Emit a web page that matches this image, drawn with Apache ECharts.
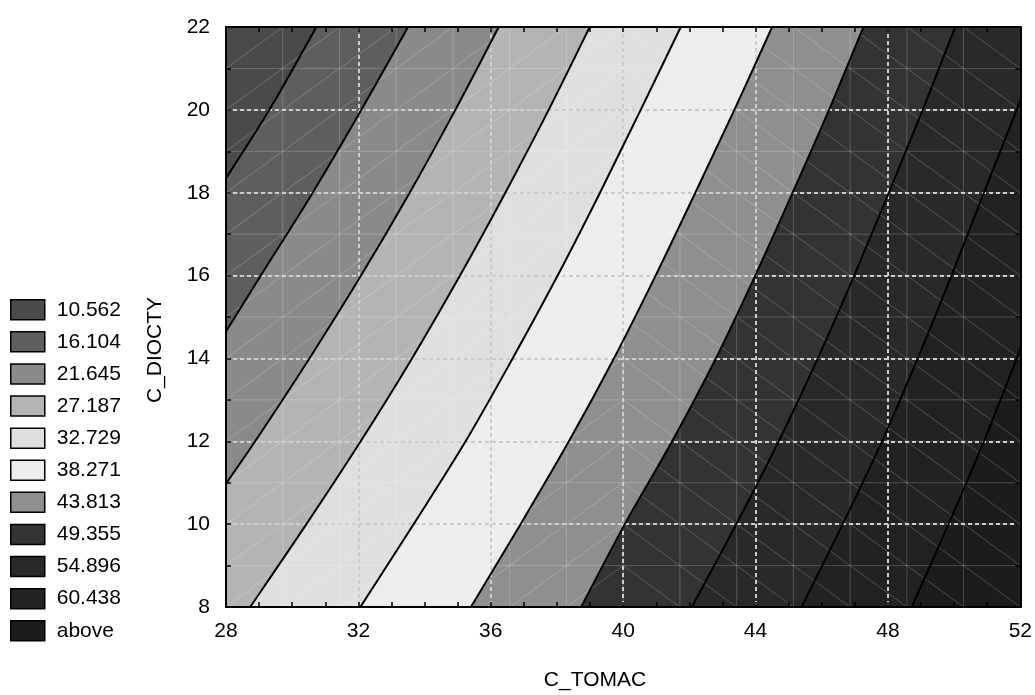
<!DOCTYPE html>
<html>
<head>
<meta charset="utf-8">
<title>C_DIOCTY vs C_TOMAC</title>
<script src="https://cdn.jsdelivr.net/npm/echarts@6/dist/echarts.min.js"></script>
<style>
  html, body { margin: 0; padding: 0; background: #fff; }
  #chart { width: 1035px; height: 695px; }
</style>
</head>
<body>
<div id="chart"></div>
<script>
// Axis ranges
const X_MIN = 28, X_MAX = 52, X_STEP = 4;
const Y_MIN = 8, Y_MAX = 22, Y_STEP = 2;

// Contour levels (legend entries, low to high)
const levels = ['10.562', '16.104', '21.645', '27.187', '32.729', '38.271',
                '43.813', '49.355', '54.896', '60.438', 'above'];

// Iso-lines, each listed from its upper end to its lower end as [C_TOMAC, C_DIOCTY]
const iso10562 = [[30.73, 22], [29.31, 20], [28, 18.35]];
const iso16104 = [[33.50, 22], [32.09, 20], [30.62, 18], [29.05, 16], [28, 14.65]];
const iso21645 = [[36.24, 22], [34.93, 20], [33.55, 18], [32.08, 16], [30.52, 14], [28.88, 12], [28, 10.98]];
const iso27187 = [[38.99, 22], [37.75, 20], [36.44, 18], [35.07, 16], [33.62, 14], [32.07, 12], [30.43, 10], [28.73, 8]];
const iso32729 = [[41.74, 22], [40.53, 20], [39.30, 18], [38.02, 16], [36.66, 14], [35.24, 12], [33.67, 10], [32.06, 8]];
const iso38271 = [[44.50, 22], [43.36, 20], [42.18, 18], [40.98, 16], [39.72, 14], [38.36, 12], [36.90, 10], [35.40, 8]];
const iso43813 = [[47.26, 22], [46.22, 20], [45.12, 18], [43.99, 16], [42.80, 14], [41.48, 12], [40.05, 10], [38.73, 8]];
const iso49355 = [[50.03, 22], [49.05, 20], [48.03, 18], [46.98, 16], [45.88, 14], [44.70, 12], [43.42, 10], [42.07, 8]];
const iso54896 = [[52, 20.2], [51.89, 20], [50.90, 18], [49.92, 16], [48.90, 14], [47.82, 12], [46.63, 10], [45.39, 8]];
const iso60438 = [[52, 14.22], [51.89, 14], [50.90, 12], [49.83, 10], [48.72, 8]];

const isoLines = [iso10562, iso16104, iso21645, iso27187, iso32729,
                  iso38271, iso43813, iso49355, iso54896, iso60438];

// Fill shade of each band
const bandColors = ['#4a4a4a', '#5e5e5e', '#8a8a8a', '#b4b4b4', '#dfdfdf', '#ededed',
                    '#8f8f8f', '#333333', '#292929', '#222222', '#1c1c1c'];

// Surface mesh resolution (cells along each axis)
const MESH_COLS = 14, MESH_ROWS = 14;

const FONT = "'Liberation Sans', Arial, sans-serif";
const FONT_SIZE = 21;

// Smooth (Catmull-Rom) path through pixel points, as SVG path commands
function curveCommands(px) {
  const f = v => v.toFixed(2);
  let d = 'M' + f(px[0][0]) + ' ' + f(px[0][1]);
  for (let i = 0; i < px.length - 1; i++) {
    const p0 = px[i - 1] || px[i], p1 = px[i], p2 = px[i + 1], p3 = px[i + 2] || px[i + 1];
    const c1x = p1[0] + (p2[0] - p0[0]) / 6, c1y = p1[1] + (p2[1] - p0[1]) / 6;
    const c2x = p2[0] - (p3[0] - p1[0]) / 6, c2y = p2[1] - (p3[1] - p1[1]) / 6;
    d += ' C' + [c1x, c1y, c2x, c2y, p2[0], p2[1]].map(f).join(' ');
  }
  return d;
}

// Border corners that close the high side of an iso-line
function highSideCorners(line) {
  const first = line[0], last = line[line.length - 1];
  const pts = [];
  if (last[0] === X_MIN && last[1] > Y_MIN) pts.push([X_MIN, Y_MIN]);
  pts.push([X_MAX, Y_MIN]);
  if (first[1] === Y_MAX) pts.push([X_MAX, Y_MAX]);
  return pts;
}

function bandPath(i, api) {
  if (i === 0) {
    const r = [[X_MIN, Y_MAX], [X_MIN, Y_MIN], [X_MAX, Y_MIN], [X_MAX, Y_MAX]].map(p => api.coord(p));
    return 'M' + r.map(p => p[0] + ' ' + p[1]).join(' L') + ' Z';
  }
  const line = isoLines[i - 1];
  let d = curveCommands(line.map(p => api.coord(p)));
  highSideCorners(line).forEach(p => {
    const q = api.coord(p);
    d += ' L' + q[0] + ' ' + q[1];
  });
  return d + ' Z';
}

const bandSeries = levels.map((name, i) => ({
  name: name,
  type: 'custom',
  coordinateSystem: 'cartesian2d',
  z: 1,
  silent: true,
  clip: true,
  itemStyle: { color: bandColors[i] },
  data: [[X_MIN, Y_MIN]],
  renderItem: (params, api) => ({
    type: 'path',
    shape: { pathData: bandPath(i, api) },
    style: { fill: bandColors[i], stroke: null }
  })
}));

// Faint wireframe of the fitted surface
const meshSeries = {
  name: 'mesh',
  type: 'custom',
  coordinateSystem: 'cartesian2d',
  z: 1,
  silent: true,
  clip: true,
  data: [[X_MIN, Y_MIN]],
  renderItem: (params, api) => {
    const dx = (X_MAX - X_MIN) / MESH_COLS, dy = (Y_MAX - Y_MIN) / MESH_ROWS;
    const style = { stroke: 'rgba(255,255,255,0.2)', lineWidth: 1 };
    const kids = [];
    const seg = (a, b) => {
      const p = api.coord(a), q = api.coord(b);
      kids.push({ type: 'line', shape: { x1: p[0], y1: p[1], x2: q[0], y2: q[1] }, style: style });
    };
    for (let c = 1; c < MESH_COLS; c++) seg([X_MIN + c * dx, Y_MIN], [X_MIN + c * dx, Y_MAX]);
    for (let r = 1; r < MESH_ROWS; r++) seg([X_MIN, Y_MIN + r * dy], [X_MAX, Y_MIN + r * dy]);
    for (let c = 0; c < MESH_COLS; c++) {
      const x0 = X_MIN + c * dx, x1 = x0 + dx;
      for (let r = 0; r < MESH_ROWS; r++) {
        const y0 = Y_MIN + r * dy, y1 = y0 + dy;
        if (c < MESH_COLS / 2) seg([x0, y0], [x1, y1]);
        else seg([x0, y1], [x1, y0]);
      }
    }
    return { type: 'group', children: kids };
  }
};

// Black iso-lines drawn over the bands and the grid
const isoSeries = {
  name: 'isolines',
  type: 'custom',
  coordinateSystem: 'cartesian2d',
  z: 5,
  silent: true,
  clip: true,
  data: [[X_MIN, Y_MIN]],
  renderItem: (params, api) => ({
    type: 'group',
    children: isoLines.map(line => ({
      type: 'path',
      shape: { pathData: curveCommands(line.map(p => api.coord(p))) },
      style: { fill: null, stroke: '#000', lineWidth: 2 }
    }))
  })
};

const tickStyle = { show: true, inside: true, length: 5, lineStyle: { color: '#000', width: 1.5 } };
const lineStyleAxis = { show: true, onZero: false, lineStyle: { color: '#000', width: 2 } };
const gridDash = { show: true, lineStyle: { color: '#cdcdcd', width: 2, type: [4, 3] } };
const labelStyle = { fontFamily: FONT, fontSize: FONT_SIZE, color: '#000' };

const chart = echarts.init(document.getElementById('chart'), null, { renderer: 'canvas' });
chart.setOption({
  animation: false,
  backgroundColor: '#fff',
  grid: { left: 226, right: 13, top: 27, bottom: 88, containLabel: false },
  xAxis: [
    { type: 'value', min: X_MIN, max: X_MAX, interval: X_STEP, position: 'bottom', z: 3,
      axisLine: lineStyleAxis, axisTick: tickStyle,
      minorTick: Object.assign({ splitNumber: 4 }, tickStyle),
      axisLabel: Object.assign({ margin: 14 }, labelStyle),
      splitLine: gridDash },
    { type: 'value', min: X_MIN, max: X_MAX, interval: X_STEP, position: 'top', z: 3,
      axisLine: lineStyleAxis, axisTick: tickStyle,
      minorTick: Object.assign({ splitNumber: 4 }, tickStyle),
      axisLabel: { show: false }, splitLine: { show: false } }
  ],
  yAxis: [
    { type: 'value', min: Y_MIN, max: Y_MAX, interval: Y_STEP, position: 'left', z: 3,
      axisLine: lineStyleAxis, axisTick: tickStyle,
      minorTick: Object.assign({ splitNumber: 2 }, tickStyle),
      axisLabel: Object.assign({ margin: 16 }, labelStyle),
      splitLine: gridDash },
    { type: 'value', min: Y_MIN, max: Y_MAX, interval: Y_STEP, position: 'right', z: 3,
      axisLine: lineStyleAxis, axisTick: tickStyle,
      minorTick: Object.assign({ splitNumber: 2 }, tickStyle),
      axisLabel: { show: false }, splitLine: { show: false } }
  ],
  legend: {
    data: levels,
    orient: 'vertical',
    left: 5,
    top: 294,
    icon: 'rect',
    itemWidth: 34,
    itemHeight: 20,
    itemGap: 10.6,
    selectedMode: false,
    itemStyle: { borderColor: '#000', borderWidth: 1.5 },
    textStyle: { fontFamily: FONT, fontSize: FONT_SIZE, color: '#000', padding: [0, 0, 0, 7] }
  },
  graphic: [
    { type: 'text', x: 595, y: 680, silent: true,
      style: { text: 'C_TOMAC', fontFamily: FONT, fontSize: FONT_SIZE, fill: '#000',
               align: 'center', verticalAlign: 'middle' } },
    { type: 'text', x: 155, y: 350, rotation: Math.PI / 2, silent: true,
      style: { text: 'C_DIOCTY', fontFamily: FONT, fontSize: FONT_SIZE, fill: '#000',
               align: 'center', verticalAlign: 'middle' } }
  ],
  series: bandSeries.concat([meshSeries, isoSeries])
});
</script>
</body>
</html>
